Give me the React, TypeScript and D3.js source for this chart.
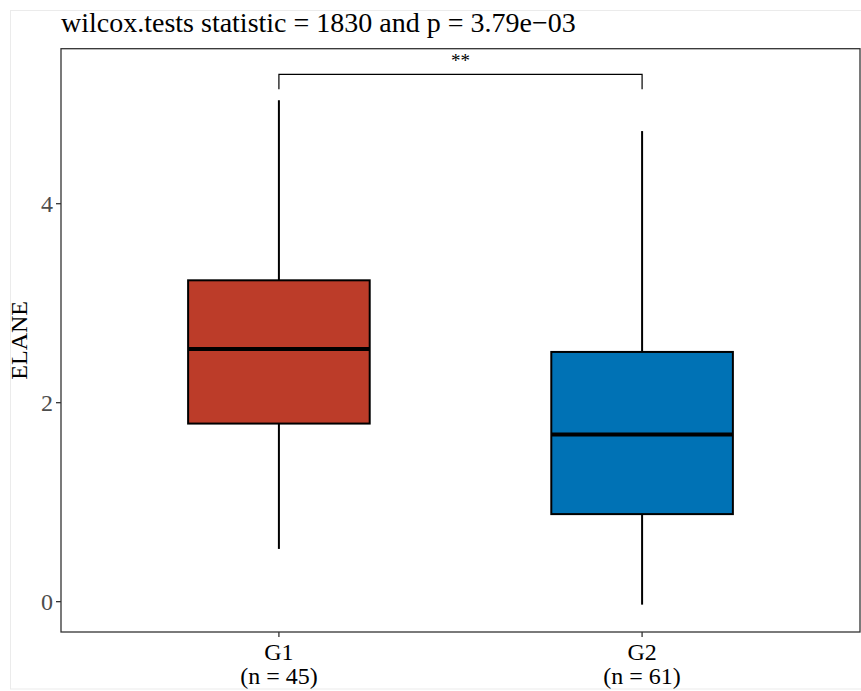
import React from "react";
import * as d3 from "d3";

const groups = ["G1", "G2"];
const groupN = [45, 61];
const whiskerLow = [0.53, -0.03];
const q1 = [1.79, 0.88];
const medians = [2.54, 1.68];
const q3 = [3.23, 2.51];
const whiskerHigh = [5.04, 4.73];
const fills = ["#BC3C29", "#0072B5"];
const yTicks = [0, 2, 4];
const titleText = "wilcox.tests statistic = 1830 and p = 3.79e\u221203";
const yLabel = "ELANE";
const sigLabel = "**";
const sigY = 5.3;
const sigDrop = 0.15;

const W = 861;
const H = 691;
const panel = { left: 61, right: 860, top: 48.7, bottom: 632 };
const font = "Liberation Serif, Times New Roman, serif";

export default function App() {
  const x = d3.scalePoint<string>().domain(groups).range([panel.left, panel.right]).padding(0.6);
  const step = x.step();
  const boxW = step * 0.5;
  const y = d3.scaleLinear().domain([-0.305, 5.558]).range([panel.bottom, panel.top]);

  const x1 = x(groups[0])!;
  const x2 = x(groups[1])!;

  return (
    <svg width={W} height={H} style={{ position: "absolute", left: 0, top: 0, background: "#fff", fontFamily: font }}>
      <rect x={10.5} y={10.5} width={860} height={678.5} fill="#fff" stroke="#ebebeb" strokeWidth={1} />
      <text x={61} y={32} fontSize={28} fill="#000" style={{ fontFamily: font }}>{titleText}</text>

      {/* whiskers */}
      {groups.map((g, i) => (
        <g key={"w" + g}>
          <line x1={x(g)} x2={x(g)} y1={y(whiskerHigh[i])} y2={y(q3[i])} stroke="#000" strokeWidth={2} />
          <line x1={x(g)} x2={x(g)} y1={y(q1[i])} y2={y(whiskerLow[i])} stroke="#000" strokeWidth={2} />
        </g>
      ))}
      {/* boxes */}
      {groups.map((g, i) => (
        <g key={"b" + g}>
          <rect x={x(g)! - boxW / 2} y={y(q3[i])} width={boxW} height={y(q1[i]) - y(q3[i])} fill={fills[i]} stroke="#000" strokeWidth={2} />
          <line x1={x(g)! - boxW / 2} x2={x(g)! + boxW / 2} y1={y(medians[i])} y2={y(medians[i])} stroke="#000" strokeWidth={4} />
        </g>
      ))}

      {/* significance bracket */}
      <path
        d={`M${x1},${y(sigY - sigDrop)}V${y(sigY)}H${x2}V${y(sigY - sigDrop)}`}
        fill="none"
        stroke="#000"
        strokeWidth={1.2}
      />
      <text x={(x1 + x2) / 2} y={67} textAnchor="middle" fontSize={19} fill="#000">{sigLabel}</text>

      {/* panel border */}
      <rect x={panel.left} y={panel.top} width={panel.right - panel.left} height={panel.bottom - panel.top} fill="none" stroke="#333" strokeWidth={1.3} />

      {/* y axis */}
      {yTicks.map((t) => (
        <g key={"yt" + t}>
          <line x1={panel.left - 5} x2={panel.left} y1={y(t)} y2={y(t)} stroke="#333" strokeWidth={1.3} />
          <text x={panel.left - 8} y={y(t)} dy="0.35em" textAnchor="end" fontSize={24} fill="#4d4d4d">{t}</text>
        </g>
      ))}
      <text transform={`translate(27,${(panel.top + panel.bottom) / 2}) rotate(-90)`} textAnchor="middle" fontSize={24} fill="#000">{yLabel}</text>

      {/* x axis */}
      {groups.map((g, i) => (
        <g key={"xt" + g}>
          <line x1={x(g)} x2={x(g)} y1={panel.bottom} y2={panel.bottom + 5} stroke="#333" strokeWidth={1.3} />
          <text x={x(g)} y={660} textAnchor="middle" fontSize={24} fill="#000">{g}</text>
          <text x={x(g)} y={684} textAnchor="middle" fontSize={24} fill="#000">{`(n = ${groupN[i]})`}</text>
        </g>
      ))}
    </svg>
  );
}
